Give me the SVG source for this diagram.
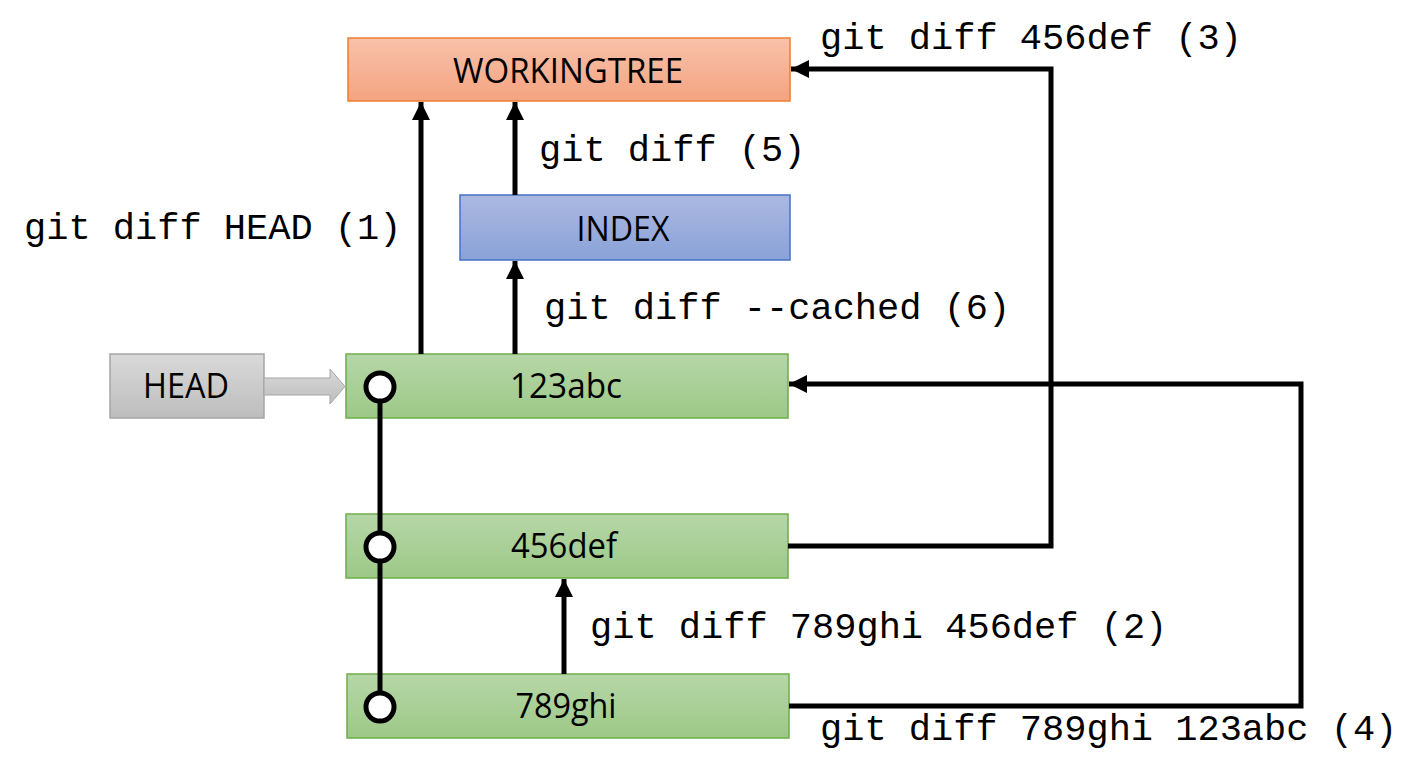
<svg xmlns="http://www.w3.org/2000/svg" width="1428" height="772" viewBox="0 0 1428 772">
<defs>
<linearGradient id="gOrange" x1="0" y1="0" x2="0" y2="1"><stop offset="0" stop-color="#f8c2aa"/><stop offset="1" stop-color="#f4a380"/></linearGradient>
<linearGradient id="gBlue" x1="0" y1="0" x2="0" y2="1"><stop offset="0" stop-color="#abb9e1"/><stop offset="1" stop-color="#8aa2d8"/></linearGradient>
<linearGradient id="gGreen" x1="0" y1="0" x2="0" y2="1"><stop offset="0" stop-color="#b6d7a8"/><stop offset="1" stop-color="#9dc888"/></linearGradient>
<linearGradient id="gGray" x1="0" y1="0" x2="0" y2="1"><stop offset="0" stop-color="#d9d9d9"/><stop offset="1" stop-color="#bdbdbd"/></linearGradient>
<marker id="ah" viewBox="0 0 10 10" refX="10" refY="5" markerWidth="3.6" markerHeight="3.6" orient="auto" markerUnits="strokeWidth"><path d="M0,0 L10,5 L0,10 Z" fill="#000"/></marker>
</defs>
<style>
.lbl{font-family:"Open Sans","Liberation Sans",sans-serif;font-size:34px;fill:#000;text-anchor:middle}
.cmd{font-family:"Liberation Mono","DejaVu Sans Mono",monospace;font-size:37px;fill:#000}
.conn{fill:none;stroke:#000;stroke-width:5}
.dot{fill:#fff;stroke:#000;stroke-width:5}
</style>
<rect width="1428" height="772" fill="#fff"/>
<g id="workingtree"><rect x="348" y="38" width="442" height="63" fill="url(#gOrange)" stroke="#ed7d31" stroke-width="1.5"/><text class="lbl" x="568" y="83" textLength="230" lengthAdjust="spacingAndGlyphs">WORKINGTREE</text></g>
<g id="index"><rect x="460" y="195" width="330" height="65" fill="url(#gBlue)" stroke="#4472c4" stroke-width="1.5"/><text class="lbl" x="623" y="241" textLength="93" lengthAdjust="spacingAndGlyphs">INDEX</text></g>
<g id="c123abc"><rect x="346" y="354" width="442" height="64" fill="url(#gGreen)" stroke="#70ad47" stroke-width="1.5"/><text class="lbl" x="566" y="398" textLength="112" lengthAdjust="spacingAndGlyphs">123abc</text></g>
<g id="c456def"><rect x="346" y="514" width="442" height="64" fill="url(#gGreen)" stroke="#70ad47" stroke-width="1.5"/><text class="lbl" x="564" y="558" textLength="106" lengthAdjust="spacingAndGlyphs">456def</text></g>
<g id="c789ghi"><rect x="347" y="674" width="442" height="64" fill="url(#gGreen)" stroke="#70ad47" stroke-width="1.5"/><text class="lbl" x="566" y="718" textLength="101" lengthAdjust="spacingAndGlyphs">789ghi</text></g>
<g id="head"><rect x="110" y="354" width="154" height="64" fill="url(#gGray)" stroke="#a5a5a5" stroke-width="1.5"/><text class="lbl" x="186" y="398" textLength="86" lengthAdjust="spacingAndGlyphs">HEAD</text>
<path d="M264,378 L330,378 L330,369 L345,386.5 L330,404 L330,395 L264,395 Z" fill="url(#gGray)" stroke="#a5a5a5" stroke-width="1"/></g>
<g id="connectors">
<line class="conn" x1="380" y1="387" x2="380" y2="707"/>
<circle class="dot" cx="380" cy="387" r="14"/>
<circle class="dot" cx="380" cy="547" r="14"/>
<circle class="dot" cx="380" cy="707" r="14"/>
<line class="conn" x1="421" y1="354" x2="421" y2="102" marker-end="url(#ah)"/>
<line class="conn" x1="515" y1="195" x2="515" y2="102" marker-end="url(#ah)"/>
<line class="conn" x1="515" y1="354" x2="515" y2="261" marker-end="url(#ah)"/>
<line class="conn" x1="564" y1="674" x2="564" y2="579" marker-end="url(#ah)"/>
<polyline class="conn" points="788,546 1051,546 1051,69 791,69" marker-end="url(#ah)"/>
<polyline class="conn" points="789,706 1301,706 1301,384 789,384" marker-end="url(#ah)"/>
</g>
<g id="labels">
<text class="cmd" x="24" y="239">git diff HEAD (1)</text>
<text class="cmd" x="539" y="161">git diff (5)</text>
<text class="cmd" x="544" y="319">git diff --cached (6)</text>
<text class="cmd" x="820" y="49">git diff 456def (3)</text>
<text class="cmd" x="590" y="638">git diff 789ghi 456def (2)</text>
<text class="cmd" x="820" y="740">git diff 789ghi 123abc (4)</text>
</g>
</svg>
